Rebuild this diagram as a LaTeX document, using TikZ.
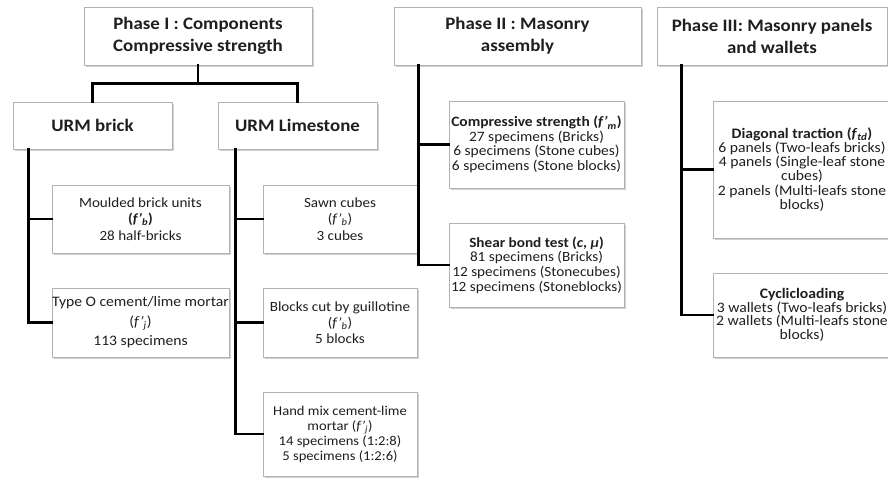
\documentclass[tikz,border=0pt]{standalone}
\usepackage{fontspec}
\setmainfont[FakeStretch=1.08]{Carlito}
\usetikzlibrary{shadows}
\newcommand{\fpr}[1]{(\textit{f’}\textsubscript{\textit{#1}})}
\newcommand{\fsz}[2]{\fontsize{#1pt}{#2pt}\selectfont}
\begin{document}
\begin{tikzpicture}[x=1pt,y=-1pt,
  box/.style={draw=black!30, line width=0.8pt, fill=white, inner sep=0pt,
    drop shadow={shadow xshift=1.5pt, shadow yshift=-1.5pt, fill=black!30, opacity=0.6},
    align=center, text=black!88, font=\fsz{14}{16.5}},
  phase/.style={box, font=\fsz{17.5}{22}\bfseries},
  conn/.style={line width=2.6pt, line cap=rect}]
\path[use as bounding box] (0,0) rectangle (888,479);
\begin{scope}
\clip (0,0) rectangle (888,479);
\fill[white] (0,0) rectangle (888,479);
% phases
\node[phase, minimum width=228pt, minimum height=58pt] (p1) at (198,36) {Phase I : Components\\Compressive strength};
\node[phase, minimum width=247pt, minimum height=58pt] (p2) at (517.5,36) {Phase II : Masonry\\assembly};
\node[phase, minimum width=230pt, minimum height=58pt] (p3) at (772,36) {Phase III: Masonry panels\\and wallets};
% phase I materials
\node[phase, minimum width=159pt, minimum height=47pt] (ub) at (92.5,125.5) {URM brick};
\node[phase, minimum width=159pt, minimum height=47pt] (ul) at (297.5,125.5) {URM Limestone};
% brick children
\node[box, minimum width=177pt, minimum height=68pt] (mb) at (140.5,219) {Moulded brick units\\\textbf{\fpr{b}}\\28 half-bricks};
\node[box, minimum width=177pt, minimum height=69pt, font=\fsz{14.5}{19.5}] (to) at (140.5,322.5) {Type O cement/lime mortar\\\fpr{j}\\113 specimens};
% limestone children
\node[box, minimum width=154pt, minimum height=68pt] (sc) at (340,219) {Sawn cubes\\\fpr{b}\\3 cubes};
\node[box, minimum width=154pt, minimum height=69pt, font=\fsz{14}{15.7}] (bg) at (340,322.5) {Blocks cut by guillotine\\\fpr{b}\\5 blocks};
\node[box, minimum width=154pt, minimum height=84pt, font=\fsz{13.5}{15}] (hm) at (340,434) {Hand mix cement-lime\\mortar \fpr{j}\\14 specimens (1:2:8)\\5 specimens (1:2:6)};
% phase II children
\node[box, minimum width=175pt, minimum height=87pt, font=\fsz{14.3}{14.5}] (cs) at (536.5,144.5) {\textbf{Compressive strength \fpr{m}}\\27 specimens (Bricks)\\6 specimens (Stone cubes)\\6 specimens (Stone blocks)};
\node[box, minimum width=175pt, minimum height=84pt, font=\fsz{14.1}{14.7}] (sb) at (536.5,265) {\textbf{Shear bond test (\textit{c}, \textit{μ})}\\81 specimens (Bricks)\\12 specimens (Stonecubes)\\12 specimens (Stoneblocks)};
% phase III children
\node[box, minimum width=178pt, minimum height=137pt, font=\fsz{14.5}{14.2}] (dt) at (802,169.5) {\textbf{Diagonal traction (\textit{f}\textsubscript{\textit{td}})}\\6 panels (Two-leafs bricks)\\4 panels (Single-leaf stone\\cubes)\\2 panels (Multi-leafs stone\\blocks)};
\node[box, minimum width=178pt, minimum height=84pt, font=\fsz{14.5}{13.8}] (cl) at (802,315) {\textbf{Cyclicloading}\\3 wallets (Two-leafs bricks)\\2 wallets (Multi-leafs stone\\blocks)};
% connectors
\coordinate (j1) at ([yshift=-18pt]p1.south);
\draw[conn] (p1.south) -- (j1) -| (ub.north);
\draw[conn] (j1) -| (ul.north);
\coordinate (bt) at ([xshift=16pt]ub.south west);
\draw[conn] (bt) |- (mb.west);
\draw[conn] (bt) |- (to.west);
\coordinate (lt) at ([xshift=18pt]ul.south west);
\draw[conn] (lt) |- (sc.west);
\draw[conn] (lt) |- (bg.west);
\draw[conn] (lt) |- (hm.west);
\coordinate (t2) at ([xshift=25pt]p2.south west);
\draw[conn] (t2) |- (cs.west);
\draw[conn] (t2) |- (sb.west);
\coordinate (t3) at ([xshift=25pt]p3.south west);
\draw[conn] (t3) |- (dt.west);
\draw[conn] (t3) |- (cl.west);
\end{scope}
\end{tikzpicture}
\end{document}
